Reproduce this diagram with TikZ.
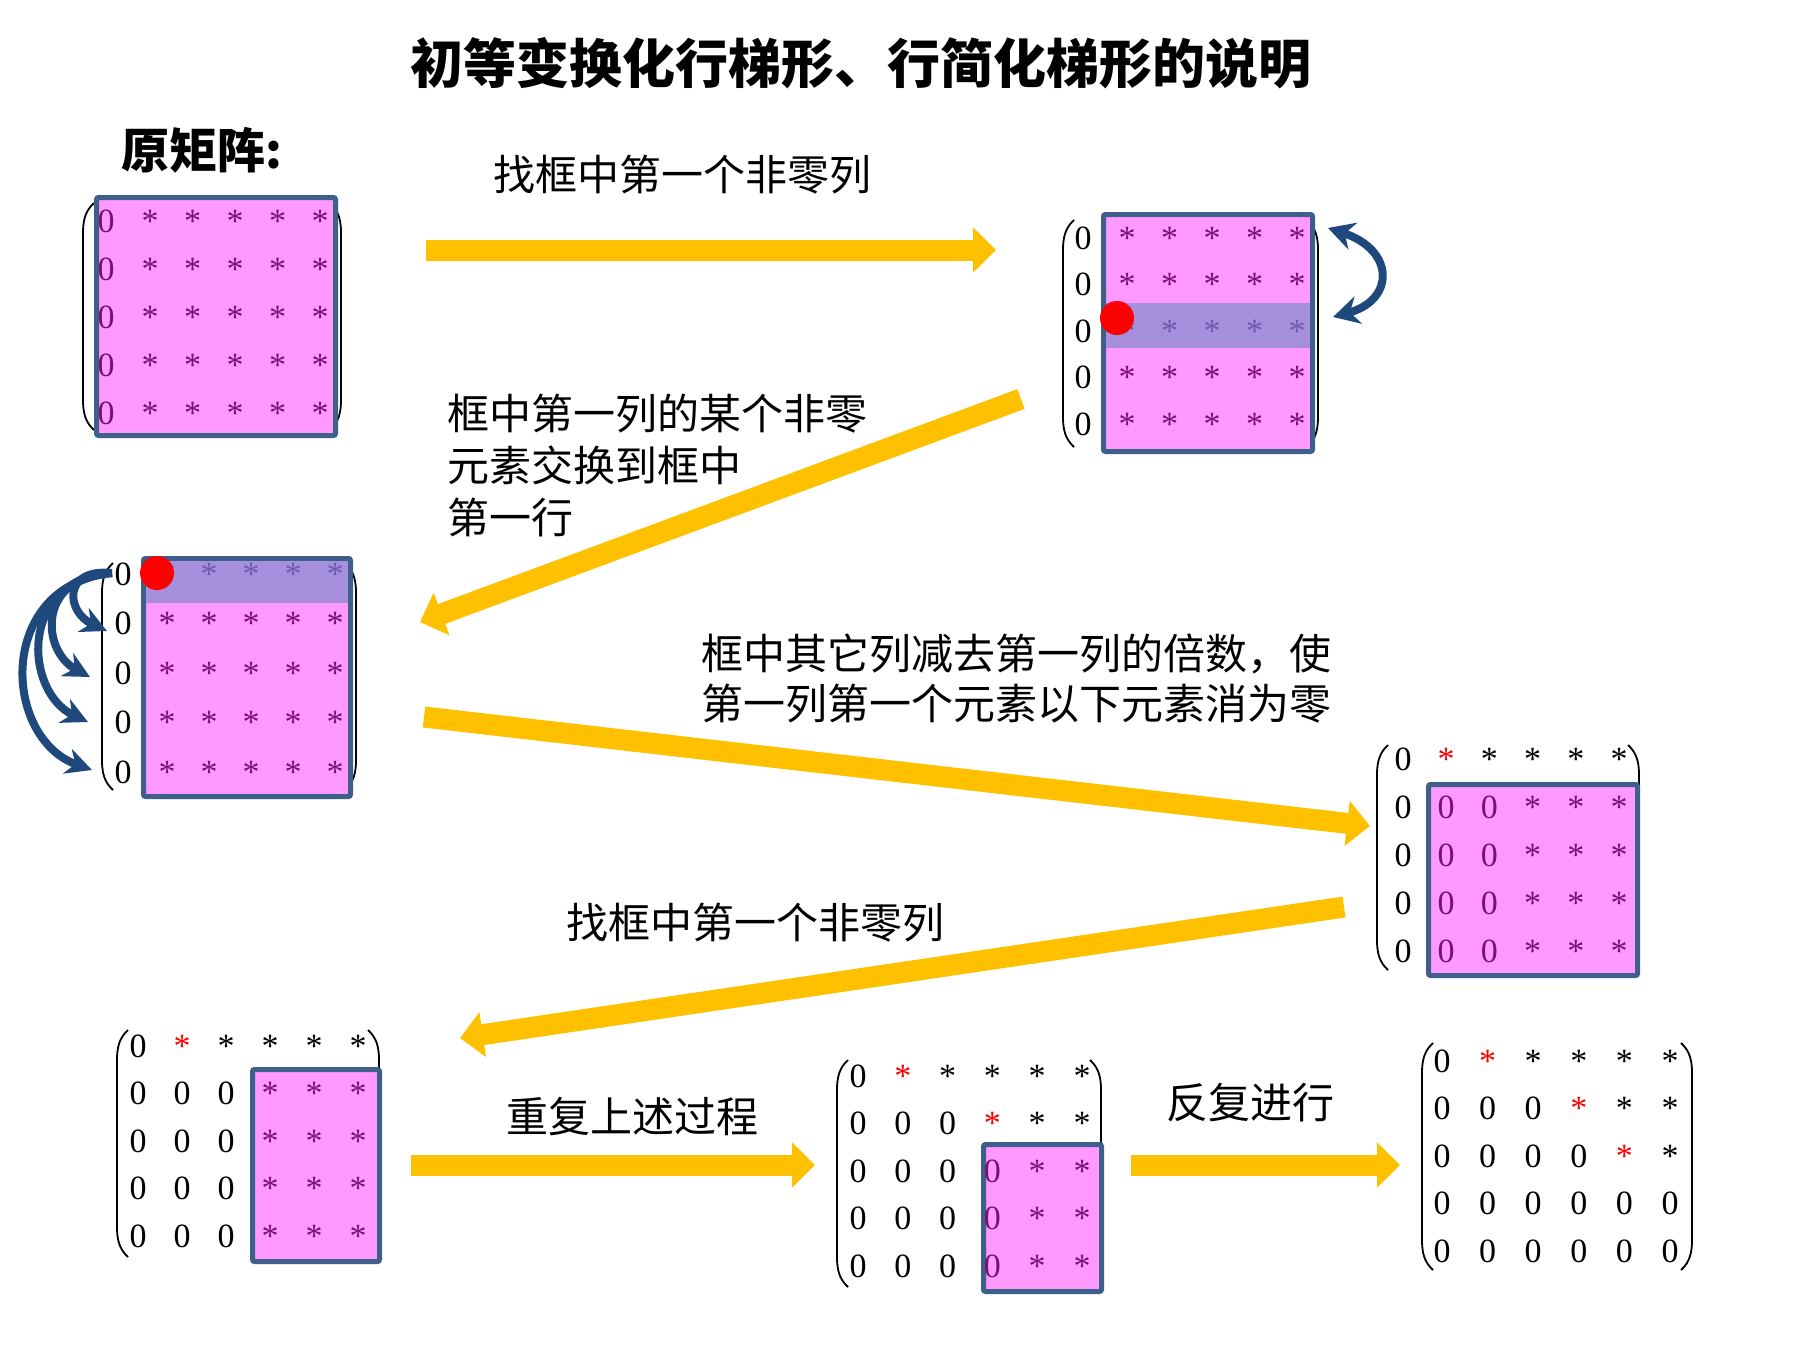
\documentclass[tikz,border=0pt]{standalone}
\usepackage{fontspec}
\usepackage{xcolor}
\usepackage{tikz}
\usetikzlibrary{arrows.meta}
\newfontfamily\cjk{Noto Sans CJK SC}
\newfontfamily\entfont{Liberation Serif}
\definecolor{flowyellow}{HTML}{FFC000}
\definecolor{swapblue}{HTML}{1F497D}
\definecolor{boxpink}{HTML}{FF99FF}
\definecolor{boxedge}{HTML}{3D5F8A}
\definecolor{bandlilac}{HTML}{A68FDD}
\definecolor{inpurple}{HTML}{7A0F7A}
\definecolor{bandstar}{HTML}{6C5CB0}

% round brackets of a matrix: x of the straight part, top, bottom
\newcommand{\parL}[3]{\draw[paren] (#1+11,#2) .. controls (#1+2,#2+8) and (#1,#2+18) .. (#1,#2+30) -- (#1,#3-30) .. controls (#1,#3-18) and (#1+2,#3-8) .. (#1+11,#3);}
\newcommand{\parR}[3]{\draw[paren] (#1-11,#2) .. controls (#1-2,#2+8) and (#1,#2+18) .. (#1,#2+30) -- (#1,#3-30) .. controls (#1,#3-18) and (#1-2,#3-8) .. (#1-11,#3);}

\begin{document}
\begin{tikzpicture}[x=1pt, y=-1pt,
    ent/.style={font=\entfont\fontsize{34}{34}\selectfont, anchor=base, inner sep=0pt},
    lbl/.style={font=\cjk\fontsize{42}{52}\selectfont, anchor=west, inner sep=0pt, align=left},
    zbox/.style={draw=boxedge, fill=boxpink, line width=5pt, rounded corners=2pt, inner sep=0pt, outer sep=0pt, anchor=north west},
    band/.style={fill=bandlilac},
    redot/.style={circle, fill=red, minimum size=34pt, inner sep=0pt},
    flowarr/.style={-{Triangle[length=23pt, width=44pt]}, flowyellow, line width=21pt},
    swaparr/.style={swapblue, line width=8pt},
    paren/.style={line width=1.8pt}
]
\useasboundingbox (0,0) rectangle (1805,1355);

\node[font=\cjk\bfseries\fontsize{53}{60}\selectfont] (title) at (861,63) {初等变换化行梯形、行简化梯形的说明};
\node[font=\cjk\bfseries\fontsize{48}{50}\selectfont, anchor=west] (orig) at (118,150) {原矩阵:};

% matrix 1: original
\parL{83}{203}{430} \parR{341}{203}{430}
\node[zbox, minimum width=239pt, minimum height=238pt] (m1box) at (96.5,197.5) {};
\foreach \r in {0,...,4} {
  \node[ent, text=inpurple] (m1-\r-0) at (106,232+48*\r) {0};
  \foreach \c in {1,...,5}
    \node[ent, text=inpurple] (m1-\r-\c) at (107.5+42.5*\c,232+48*\r) {*};
}

% matrix 2: find pivot row
\parL{1063}{220}{447} \parR{1318}{220}{447}
\node[zbox, minimum width=209pt, minimum height=237pt] (m2box) at (1103.5,214.5) {};
\fill[band] (1106,303) rectangle (1310,348);
\foreach \r/\col in {0/inpurple,1/inpurple,2/bandstar,3/inpurple,4/inpurple} {
  \node[ent] (m2-\r-0) at (1083,249+46.5*\r) {0};
  \foreach \c in {1,...,5}
    \node[ent, text=\col] (m2-\r-\c) at (1084.5+42.5*\c,249+46.5*\r) {*};
}
\node[redot] (dot2) at (1117,318) {};
\coordinate (sw-a) at (1328,228);
\coordinate (sw-b) at (1333,317);
\draw[swaparr, {Stealth[length=26pt, width=28pt]}-{Stealth[length=26pt, width=28pt]}] (sw-a) .. controls (1395,250) and (1395,300) .. (sw-b);

% matrix 3: pivot row on top
\parL{102}{563}{790} \parR{356}{563}{790}
\node[zbox, minimum width=207pt, minimum height=238pt] (m3box) at (143.5,558.5) {};
\fill[band] (146,561) rectangle (348,603);
\foreach \r/\col in {0/bandstar,1/inpurple,2/inpurple,3/inpurple,4/inpurple} {
  \node[ent] (m3-\r-0) at (123,585+49.6*\r) {0};
  \foreach \c in {1,...,5}
    \node[ent, text=\col] (m3-\r-\c) at (125+42*\c,585+49.6*\r) {*};
}
\node[redot] (dot3) at (157,573) {};
\coordinate (src) at (112,573);
\coordinate (t1) at (107,631);
\coordinate (t2) at (90,677);
\coordinate (t3) at (88,722);
\coordinate (t4) at (92,770);
\draw[swaparr, -{Stealth[length=26pt, width=26pt]}] (src) .. controls (62,568) and (66,612) .. (t1);
\draw[swaparr, -{Stealth[length=26pt, width=26pt]}] (src) .. controls (38,575) and (40,650) .. (t2);
\draw[swaparr, -{Stealth[length=26pt, width=26pt]}] (src) .. controls (18,580) and (24,692) .. (t3);
\draw[swaparr, -{Stealth[length=26pt, width=26pt]}] (src) .. controls (-4,585) and (2,738) .. (t4);

% matrix 4: first column cleared
\parL{1377}{745}{970} \parR{1639}{745}{970}
\node[zbox, minimum width=209pt, minimum height=191pt] (m4box) at (1428.5,784.5) {};
\foreach \c in {0,...,5}
  \node[ent] (m4-0-\c) at (1403+43.2*\c,770) {\ifcase\c\relax 0\or\textcolor{red}{*}\else *\fi};
\foreach \r in {1,...,4} {
  \node[ent] (m4-\r-0) at (1403,770+48*\r) {0};
  \foreach \c in {1,2}
    \node[ent, text=inpurple] (m4-\r-\c) at (1403+43.2*\c,770+48*\r) {0};
  \foreach \c in {3,4,5}
    \node[ent, text=inpurple] (m4-\r-\c) at (1403+43.2*\c,770+48*\r) {*};
}

% matrix 5
\parL{117}{1030}{1257} \parR{379}{1030}{1257}
\node[zbox, minimum width=127pt, minimum height=192pt] (m5box) at (252.5,1069.5) {};
\foreach \c in {0,...,5}
  \node[ent] (m5-0-\c) at (138+44*\c,1057) {\ifcase\c\relax 0\or\textcolor{red}{*}\else *\fi};
\foreach \r in {1,...,4} {
  \foreach \c in {0,1,2}
    \node[ent] (m5-\r-\c) at (138+44*\c,1057+47.5*\r) {0};
  \foreach \c in {3,4,5}
    \node[ent, text=inpurple] (m5-\r-\c) at (138+44*\c,1057+47.5*\r) {*};
}

% matrix 6
\parL{837}{1060}{1287} \parR{1101}{1060}{1287}
\node[zbox, minimum width=118pt, minimum height=147pt] (m6box) at (983.5,1144.5) {};
\foreach \c in {0,...,5}
  \node[ent] (m6-0-\c) at (858+44.8*\c,1087) {\ifcase\c\relax 0\or\textcolor{red}{*}\else *\fi};
\foreach \c in {0,...,5}
  \node[ent] (m6-1-\c) at (858+44.8*\c,1134.5) {\ifcase\c\relax 0\or 0\or 0\or\textcolor{red}{*}\else *\fi};
\foreach \r in {2,3,4} {
  \foreach \c in {0,1,2}
    \node[ent] (m6-\r-\c) at (858+44.8*\c,1087+47.5*\r) {0};
  \node[ent, text=inpurple] (m6-\r-3) at (858+44.8*3,1087+47.5*\r) {0};
  \foreach \c in {4,5}
    \node[ent, text=inpurple] (m6-\r-\c) at (858+44.8*\c,1087+47.5*\r) {*};
}

% matrix 7: row echelon form
\parL{1422}{1043}{1270} \parR{1692}{1043}{1270}
\foreach \r/\p in {0/1,1/3,2/4,3/9,4/9}
  \foreach \c in {0,...,5}
    \node[ent] (m7-\r-\c) at (1442+45.6*\c,1072+47.5*\r) {\ifnum\c<\p\relax 0\else\ifnum\c=\p\relax \textcolor{red}{*}\else *\fi\fi};

% yellow flow arrows
\coordinate (a1s) at (426,250);  \coordinate (a1e) at (996,250);
\coordinate (a2s) at (1021,399); \coordinate (a2e) at (420,622);
\coordinate (a3s) at (424,717);  \coordinate (a3e) at (1370,826);
\coordinate (a4s) at (1344,907); \coordinate (a4e) at (460,1038);
\coordinate (a5s) at (411,1165); \coordinate (a5e) at (815,1165);
\coordinate (a6s) at (1131,1165);\coordinate (a6e) at (1400,1165);
\draw[flowarr] (a1s) -- (a1e);
\draw[flowarr] (a2s) -- (a2e);
\draw[flowarr] (a3s) -- (a3e);
\draw[flowarr] (a4s) -- (a4e);
\draw[flowarr] (a5s) -- (a5e);
\draw[flowarr] (a6s) -- (a6e);

% step labels
\node[lbl] (lb1) at (493,175) {找框中第一个非零列};
\node[lbl] (lb2) at (447,465) {框中第一列的某个非零\\元素交换到框中\\第一行};
\node[lbl, font=\cjk\fontsize{42}{50}\selectfont] (lb3) at (701,679) {框中其它列减去第一列的倍数，使\\第一列第一个元素以下元素消为零};
\node[lbl] (lb4) at (566,923) {找框中第一个非零列};
\node[lbl] (lb5) at (506,1117) {重复上述过程};
\node[lbl] (lb6) at (1166,1103) {反复进行};
\end{tikzpicture}
\end{document}
